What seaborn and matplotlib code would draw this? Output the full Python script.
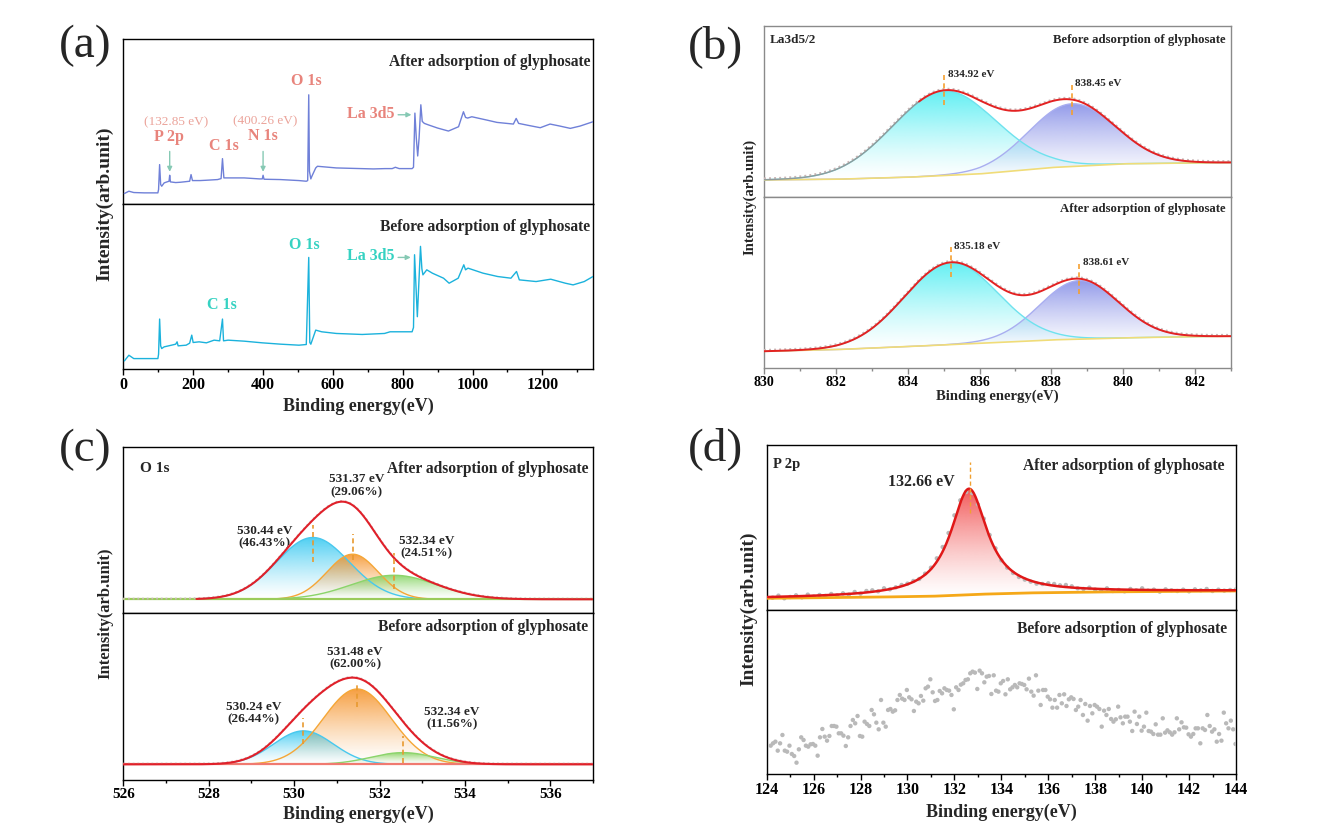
import numpy as np
import pandas as pd
import matplotlib
matplotlib.use("Agg")
import matplotlib.pyplot as plt
import seaborn as sns
from matplotlib.colors import to_rgb
from matplotlib.patches import PathPatch
from matplotlib.path import Path
from matplotlib.ticker import MultipleLocator

# -----------------------------------
# (a) survey spectra (eV, intensity a.u.)
# -----------------------------------
survey_after_ev = [3, 16, 30, 60, 99, 101, 104, 107, 110, 117, 125, 131, 132.85, 135, 150, 164,
                   190, 194, 198, 220, 238, 270, 280, 284, 288, 300, 346, 390, 398, 400.26, 403,
                   450, 503, 524, 528, 531, 533, 537, 540, 551, 556, 610, 716, 750, 770, 779, 790,
                   827, 831, 835, 839, 843, 847, 852, 856, 862, 875, 900, 931, 960, 974, 980, 986,
                   998, 1041, 1070, 1117, 1125, 1132, 1160, 1194, 1222, 1250, 1280, 1308, 1345]
survey_after_int = [33, 40, 36, 35, 35, 45, 120, 60, 55, 65, 68, 70, 88, 68, 66, 67,
                    70, 90, 72, 72, 73, 75, 78, 138, 80, 80, 80, 77, 77, 88, 76,
                    75, 72, 70, 72, 330, 100, 77, 85, 110, 115, 110, 107, 108, 108, 112, 108,
                    108, 112, 275, 200, 146, 200, 300, 250, 244, 239, 230, 221, 234, 279, 262, 260,
                    264, 254, 247, 242, 259, 244, 238, 231, 242, 236, 229, 236, 249]

survey_before_ev = [3, 16, 30, 60, 99, 101, 104, 107, 110, 117, 138, 150, 154, 157, 180, 190,
                    196, 200, 217, 238, 260, 276, 284, 287, 300, 346, 398, 451, 503, 524, 531,
                    534, 537, 551, 568, 610, 684, 748, 764, 827, 831, 834, 838, 842, 846, 851,
                    855, 858, 869, 885, 917, 933, 959, 975, 980, 987, 1030, 1072, 1110, 1126,
                    1134, 1182, 1224, 1266, 1288, 1320, 1345]
survey_before_int = [25, 42, 32, 32, 32, 45, 150, 70, 62, 67, 72, 75, 82, 70, 72, 78,
                     102, 80, 82, 79, 87, 85, 150, 85, 87, 84, 79, 75, 72, 74, 334,
                     80, 75, 117, 112, 107, 104, 107, 112, 112, 125, 342, 250, 157, 250, 367,
                     300, 282, 297, 287, 272, 257, 272, 312, 297, 302, 287, 277, 272, 292,
                     267, 262, 269, 257, 252, 262, 277]

# -----------------------------------
# (b) La 3d5/2 fit: peak centre (eV), height, sigma; Shirley-type baseline points
# -----------------------------------
la_before_centers = [835.02, 838.57]
la_before_heights = [252, 187]
la_before_sigmas = [1.45, 1.2]
la_before_base_ev = [830, 832, 834, 836, 838, 840, 842, 843]
la_before_base_int = [50, 52, 58, 68, 87, 98, 101, 102]
la_before_labels = ["834.92 eV", "838.45 eV"]

la_after_centers = [835.2, 838.78]
la_after_heights = [245, 175]
la_after_sigmas = [1.3, 1.1]
la_after_base_ev = [830, 832, 834, 836, 838, 840, 842, 843]
la_after_base_int = [50, 55, 64, 74, 84, 90, 94, 95]
la_after_labels = ["835.18 eV", "838.61 eV"]

# -----------------------------------
# (c) O 1s fit: three components
# -----------------------------------
o_after_centers = [530.44, 531.37, 532.34]
o_after_heights = [185, 135, 72]
o_after_sigmas = [0.85, 0.6, 1.0]
o_after_base = 41
o_after_labels = ["530.44 eV\n(46.43%)", "531.37 eV\n(29.06%)", "532.34 eV\n(24.51%)"]

o_before_centers = [530.22, 531.48, 532.55]
o_before_heights = [100, 225, 35]
o_before_sigmas = [0.7, 0.8, 0.75]
o_before_base = 48
o_before_labels = ["530.24 eV\n(26.44%)", "531.48 eV\n(62.00%)", "532.34 eV\n(11.56%)"]

# -----------------------------------
# (d) P 2p: fit parameters, baseline and raw counts
# -----------------------------------
p_center, p_height, p_hwhm = 132.62, 318, 0.95
p_base_ev = [124, 128, 131, 133, 135, 138, 144]
p_base_int = [36, 39, 42, 48, 52, 55, 58]
p_after_raw = [38, 44, 36, 40, 45, 39, 47, 41, 46, 43, 49, 45,
               51, 47, 55, 50, 58, 60, 57, 66, 63, 69, 76, 80,
               88, 94, 110, 128, 156, 190, 232, 285, 330, 355, 352, 318,
               275, 226, 186, 150, 128, 112, 100, 92, 86, 80, 79, 81,
               79, 75, 76, 72, 66, 64, 68, 62, 60, 66, 58, 61,
               57, 64, 60, 66, 59, 62, 56, 63, 60, 58, 62, 57,
               63, 60, 64, 58, 62, 59, 61, 63]
p_before_raw = [85, 92, 97, 70, 92, 117, 70, 67, 85, 60, 54, 34, 74, 110, 102, 85, 82, 89, 90, 85,
                55, 110, 135, 112, 100, 114, 144, 144, 142, 122, 122, 115, 84, 110, 144, 162, 152, 174, 114, 112,
                157, 150, 144, 192, 179, 154, 134, 222, 154, 142, 192, 195, 187, 191, 222, 237, 226, 222, 252, 230,
                224, 189, 217, 212, 234, 220, 257, 262, 284, 245, 219, 222, 249, 242, 257, 252, 250, 237, 194, 260,
                252, 268, 272, 282, 284, 302, 307, 304, 255, 310, 302, 275, 292, 294, 240, 296, 250, 247, 272, 279,
                239, 284, 254, 260, 267, 260, 272, 270, 267, 254, 286, 247, 235, 296, 250, 207, 252, 252, 232, 224,
                199, 222, 199, 237, 212, 239, 204, 224, 230, 225, 192, 202, 222, 177, 210, 160, 204, 182, 207, 202,
                195, 142, 190, 177, 195, 165, 157, 164, 202, 170, 152, 172, 172, 157, 129, 187, 150, 172, 130, 142,
                184, 129, 127, 120, 149, 118, 118, 167, 124, 131, 125, 118, 125, 167, 134, 155, 140, 139, 119, 112,
                120, 137, 137, 92, 137, 132, 177, 144, 127, 134, 97, 120, 100, 184, 152, 137, 160, 134, 90]

# -----------------------------------
# style
# -----------------------------------
sns.set_theme(style="white")
plt.rcParams["font.family"] = ["Liberation Serif", "DejaVu Serif"]
plt.rcParams["font.weight"] = "bold"
plt.rcParams["axes.labelweight"] = "bold"
plt.rcParams["axes.linewidth"] = 1.0

fig = plt.figure(figsize=(13.25, 8.38), dpi=100)


def gauss(x, c, h, s):
    return h * np.exp(-(x - c) ** 2 / (2 * s ** 2))


def line(ax, x, y, color, lw=1.0, ls="-", z=3):
    sns.lineplot(x=np.asarray(x), y=np.asarray(y), ax=ax, color=color, lw=lw, linestyle=ls,
                 estimator=None, sort=False, zorder=z, legend=False)


def grad_fill(ax, x, top, base, color, amax=0.9, z=2):
    verts = np.column_stack([np.r_[x, x[::-1]], np.r_[top, base[::-1]]])
    patch = PathPatch(Path(verts), facecolor="none", edgecolor="none", transform=ax.transData)
    ax.add_patch(patch)
    n = 256
    rgba = np.ones((n, 1, 4))
    rgba[:, 0, :3] = to_rgb(color)
    rgba[:, 0, 3] = amax * np.linspace(0, 1, n) ** 1.3
    im = ax.imshow(rgba, extent=[x.min(), x.max(), base.min(), top.max()], origin="lower",
                   aspect="auto", zorder=z, interpolation="bilinear")
    im.set_clip_path(patch)


def pair_axes(rect_top, rect_bot, frame="black"):
    at = fig.add_axes(rect_top)
    ab = fig.add_axes(rect_bot)
    for a in (at, ab):
        for sp in a.spines.values():
            sp.set_color(frame)
            sp.set_linewidth(1.0)
        a.set_yticks([])
    at.tick_params(axis="x", bottom=False, labelbottom=False)
    ab.tick_params(axis="x", which="both", bottom=True, direction="out", colors=frame,
                   labelcolor="black", pad=1.5)
    ab.tick_params(axis="x", which="major", length=4, width=1)
    ab.tick_params(axis="x", which="minor", length=2.5, width=1)
    return at, ab


def finish(at, ab, xlim, ylims, major, minor, tsize):
    for a, yl in zip((at, ab), ylims):
        a.set_xlim(*xlim)
        a.set_ylim(*yl)
        a.set_xlabel("")
        a.set_ylabel("")
        a.set_yticks([])
    ab.xaxis.set_major_locator(MultipleLocator(major))
    ab.xaxis.set_minor_locator(MultipleLocator(minor))
    for lab in ab.get_xticklabels():
        lab.set_fontsize(tsize)
        lab.set_fontweight("bold")


W, H = 1325, 838


def rect(l, r, t, b):
    return [l / W, 1 - b / H, (r - l) / W, (b - t) / H]


# ================= (a) =================
a_top, a_bot = pair_axes(rect(123.3, 593, 39.3, 204.5), rect(123.3, 593, 204.5, 369.3))
line(a_top, survey_after_ev, survey_after_int, "#6f80d8", lw=1.0)
line(a_bot, survey_before_ev, survey_before_int, "#1bb2dc", lw=1.0)

salmon, salmon_l, teal, arrow_c = "#e8847c", "#eba39a", "#36d2c2", "#86c9b4"
a_top.text(525, 373, "O 1s", color=salmon, fontsize=11.5, ha="center", va="center")
a_top.text(710, 272, "La 3d5", color=salmon, fontsize=11.5, ha="center", va="center")
a_top.text(132, 203, "P 2p", color=salmon, fontsize=11.5, ha="center", va="center")
a_top.text(150, 247, "(132.85 eV)", color=salmon_l, fontsize=9.5, ha="center", va="center",
           fontweight="normal")
a_top.text(288, 175, "C 1s", color=salmon, fontsize=11.5, ha="center", va="center")
a_top.text(400, 205, "N 1s", color=salmon, fontsize=11.5, ha="center", va="center")
a_top.text(406, 249, "(400.26 eV)", color=salmon_l, fontsize=9.5, ha="center", va="center",
           fontweight="normal")
arrow_kw = dict(arrowstyle="-|>", color=arrow_c, lw=1.0, mutation_scale=7)
a_top.annotate("", xy=(132.85, 90), xytext=(132.85, 168), arrowprops=arrow_kw)
a_top.annotate("", xy=(400.26, 90), xytext=(400.26, 168), arrowprops=arrow_kw)
a_top.annotate("", xy=(833, 270), xytext=(779, 270), arrowprops=arrow_kw)
a_top.text(0.994, 0.864, "After adsorption of glyphosate", transform=a_top.transAxes,
           ha="right", va="center", fontsize=11.2)

a_bot.text(519, 372, "O 1s", color=teal, fontsize=11.5, ha="center", va="center")
a_bot.text(708, 339, "La 3d5", color=teal, fontsize=11.5, ha="center", va="center")
a_bot.text(283, 192, "C 1s", color=teal, fontsize=11.5, ha="center", va="center")
a_bot.annotate("", xy=(831, 334), xytext=(779, 334), arrowprops=arrow_kw)
a_bot.text(0.994, 0.865, "Before adsorption of glyphosate", transform=a_bot.transAxes,
           ha="right", va="center", fontsize=11.2)
finish(a_top, a_bot, (0, 1345), [(0, 497), (0, 492)], 200, 100, 11.5)

# ================= (b) =================
b_top, b_bot = pair_axes(rect(764, 1231, 25.7, 196.7), rect(764, 1231, 196.7, 368), frame="#8a8a8a")
xb = np.linspace(830, 843, 700)
cyan_b, blue_b = "#52eef2", "#7f88e6"
for ax, cs, hs, ss, bev, bint, labs in (
        (b_top, la_before_centers, la_before_heights, la_before_sigmas,
         la_before_base_ev, la_before_base_int, la_before_labels),
        (b_bot, la_after_centers, la_after_heights, la_after_sigmas,
         la_after_base_ev, la_after_base_int, la_after_labels)):
    base = np.interp(xb, bev, bint)
    comp = [gauss(xb, c, h, s) for c, h, s in zip(cs, hs, ss)]
    env = base + comp[0] + comp[1]
    grad_fill(ax, xb, base + comp[1], base, blue_b, amax=0.85, z=2)
    grad_fill(ax, xb, base + comp[0], base, cyan_b, amax=0.9, z=2.2)
    line(ax, xb, base + comp[1], "#a9aef0", lw=1.0, z=3)
    line(ax, xb, base + comp[0], "#6fe2ee", lw=1.0, z=3.1)
    line(ax, xb, base, "#f0dc78", lw=1.2, z=3.2)
    line(ax, xb, env + 4, "#c9b7b7", lw=1.4, ls=(0, (1, 1.6)), z=3.3)
    if ax is b_top:
        m = xb >= 834.3
        line(ax, xb[~m], env[~m], "#8f9a9a", lw=1.0, z=3.4)
        line(ax, xb[m], env[m], "#e32222", lw=1.4, z=3.5)
    else:
        line(ax, xb, env, "#e32222", lw=1.4, z=3.5)
    for c, lab in zip(cs, labs):
        top = np.interp(c, xb, env)
        line(ax, [c, c], [top - 45, top + 48], "#f5a030", lw=1.2, ls=(0, (3, 2)), z=4)
        ax.text(c + 0.1, top + 48, lab, fontsize=8, ha="left", va="center")

b_top.text(0.013, 0.918, "La3d5/2", transform=b_top.transAxes, ha="left", va="center", fontsize=9.5)
b_top.text(0.988, 0.918, "Before adsorption of glyphosate", transform=b_top.transAxes,
           ha="right", va="center", fontsize=9.2)
b_bot.text(0.988, 0.926, "After adsorption of glyphosate", transform=b_bot.transAxes,
           ha="right", va="center", fontsize=9.2)
finish(b_top, b_bot, (830, 843), [(0, 510), (0, 512)], 2, 1, 10)

# ================= (c) =================
c_top, c_bot = pair_axes(rect(123.3, 593, 447.3, 613), rect(123.3, 593, 613, 780.4))
xc = np.linspace(526, 537, 700)
c_cols = ["#2ec6f0", "#f58c1c", "#78cf52"]
c_lines = ["#48c8ee", "#f5a636", "#8bd46a"]
for ax, cs, hs, ss, b0, labs, lab_pos, mk in (
        (c_top, o_after_centers, o_after_heights, o_after_sigmas, o_after_base, o_after_labels,
         [(529.31, 228), (531.47, 381), (533.11, 197)], [(153, 263), (158, 236), (73, 180)]),
        (c_bot, o_before_centers, o_before_heights, o_before_sigmas, o_before_base, o_before_labels,
         [(529.05, 200), (531.43, 365), (533.69, 186)], [(108, 185), (220, 295), (53, 133)])):
    base = np.full_like(xc, b0, dtype=float)
    comp = [gauss(xc, c, h, s) for c, h, s in zip(cs, hs, ss)]
    env = base + comp[0] + comp[1] + comp[2]
    for k in range(3):
        grad_fill(ax, xc, base + comp[k], base, c_cols[k], amax=0.85, z=2 + 0.1 * k)
        line(ax, xc, base + comp[k], c_lines[k], lw=1.0, z=3 + 0.1 * k)
    line(ax, xc, env + 2, "#c9b7b7", lw=1.3, ls=(0, (1, 1.6)), z=3.4)
    if ax is c_top:
        line(ax, xc, base, "#9acb5a", lw=1.6, z=3.3)
        m = xc >= 527.7
        line(ax, xc[m], env[m], "#e0202a", lw=1.5, z=3.5)
    else:
        line(ax, xc, base, "#f07a70", lw=1.6, z=3.3)
        line(ax, xc, env, "#e0202a", lw=1.5, z=3.5)
    for c, lab, (tx, ty), (y0, y1) in zip(cs, labs, lab_pos, mk):
        line(ax, [c, c], [y0, y1], "#e89a30", lw=1.2, ls=(0, (3, 2)), z=4)
        ax.text(tx, ty, lab, fontsize=9.5, ha="center", va="center", linespacing=1.05)

c_top.text(0.036, 0.873, "O 1s", transform=c_top.transAxes, ha="left", va="center", fontsize=11)
c_top.text(0.99, 0.87, "After adsorption of glyphosate", transform=c_top.transAxes,
           ha="right", va="center", fontsize=11.2)
c_bot.text(0.99, 0.915, "Before adsorption of glyphosate", transform=c_bot.transAxes,
           ha="right", va="center", fontsize=11.2)
finish(c_top, c_bot, (526, 537), [(0, 496), (0, 500)], 2, 1, 11)

# ================= (d) =================
d_top, d_bot = pair_axes(rect(766.7, 1236, 444.7, 610.3), rect(766.7, 1236, 610.3, 774))
xd = np.linspace(124, 144, 900)
base_d = np.interp(xd, p_base_ev, p_base_int)
env_d = base_d + p_height / (1 + ((xd - p_center) / p_hwhm) ** 2)
raw_after_ev = 124.25 + 0.25 * np.arange(len(p_after_raw))
raw_before_ev = np.linspace(124.17, 143.98, len(p_before_raw))

grad_fill(d_top, xd, env_d, base_d, "#f03c3c", amax=0.85, z=2)
sns.scatterplot(x=raw_after_ev, y=p_after_raw, ax=d_top, color="#b9b9b9", s=10,
                edgecolor="none", zorder=3, legend=False)
line(d_top, xd, base_d, "#f5a818", lw=2.0, z=3.5)
line(d_top, xd, env_d, "#e01818", lw=1.8, z=3.6)
line(d_top, [132.66, 132.66], [291, 446], "#f0a030", lw=1.0, ls=(0, (3, 2)), z=4)
d_top.text(132.0, 386, "132.66 eV", fontsize=11.5, ha="right", va="center")
d_top.text(0.013, 0.883, "P 2p", transform=d_top.transAxes, ha="left", va="center", fontsize=10.5)
d_top.text(0.975, 0.871, "After adsorption of glyphosate", transform=d_top.transAxes,
           ha="right", va="center", fontsize=11.2)

sns.scatterplot(x=raw_before_ev, y=p_before_raw, ax=d_bot, color="#b9b9b9", s=10,
                edgecolor="none", zorder=3, legend=False)
d_bot.text(0.981, 0.884, "Before adsorption of glyphosate", transform=d_bot.transAxes,
           ha="right", va="center", fontsize=11.2)
finish(d_top, d_bot, (124, 144), [(0, 497), (0, 491)], 2, 1, 11.5)

# ================= shared labels =================
for (xl, yc, fs) in ((105, 204, 14), (750, 197, 10.5), (105, 613, 12), (748.5, 609, 14)):
    fig.text(xl / W, 1 - yc / H, "Intensity(arb.unit)", rotation=90, ha="center", va="center",
             fontsize=fs, fontweight="bold")
for (xc_, yc, fs) in ((358, 406.7, 13), (997.5, 396, 10.5), (358, 814, 13), (1001, 812, 13)):
    fig.text(xc_ / W, 1 - yc / H, "Binding energy(eV)", ha="center", va="center",
             fontsize=fs, fontweight="bold")
for (lab, xl, yc) in (("(a)", 85, 46), ("(b)", 716, 47), ("(c)", 85, 450), ("(d)", 716, 449)):
    fig.text(xl / W, 1 - yc / H, lab, ha="center", va="center", fontsize=34, fontweight="normal")

fig.savefig("out.png", dpi=100)
